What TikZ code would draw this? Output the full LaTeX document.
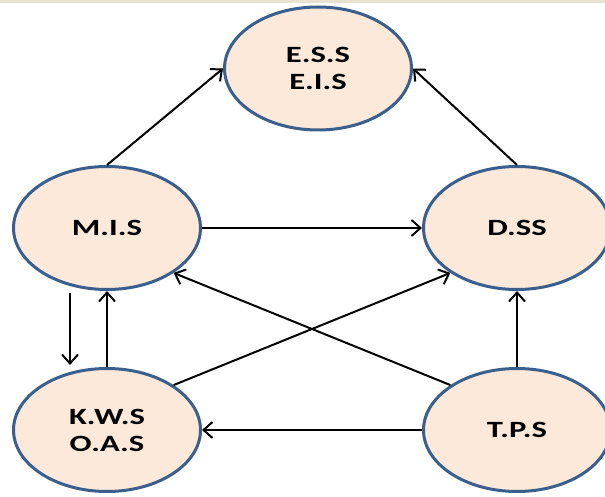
\documentclass[tikz,border=0pt]{standalone}
\usepackage{fontspec}
\setmainfont{Carlito}[FakeStretch=1.4]
\usetikzlibrary{shapes.geometric,arrows.meta}
\definecolor{ellborder}{RGB}{58,95,140}
\definecolor{ellfill}{RGB}{253,233,218}
\definecolor{topband}{RGB}{233,226,208}
\tikzset{
  sysnode/.style={ellipse,draw=ellborder,fill=ellfill,line width=3pt,
    minimum width=187pt,minimum height=123pt,inner sep=0pt,align=center,
    font=\fontsize{23.3}{27}\selectfont\bfseries},
  flow/.style={line width=2pt,-{Straight Barb[length=9pt,width=16pt,line width=2pt]}}
}
\begin{document}
\begin{tikzpicture}[x=1pt,y=-1pt]
\useasboundingbox (0,0) rectangle (605,497);
\clip (0,0) rectangle (605,497);
\fill[topband] (0,0) rectangle (605,3.5);
\node[sysnode] (ess) at (318,68.5) {E.S.S\\E.I.S};
\node[sysnode] (mis) at (107,228) {M.I.S};
\node[sysnode] (dss) at (517,228) {D.SS};
\node[sysnode] (kws) at (107,430) {K.W.S\\O.A.S};
\node[sysnode] (tps) at (517,430) {T.P.S};
\draw[flow] (mis.north) -- (ess.west);
\draw[flow] (dss.north) -- (ess.east);
\draw[flow] (mis.east) -- (dss.west);
\draw[flow] (tps.146) -- (mis.-34);
\draw[flow] (kws.34) -- (dss.-146);
\draw[flow] ([xshift=-37pt,yshift=-2pt]mis.south) -- ([xshift=-37pt,yshift=2pt]kws.north);
\draw[flow] (kws.north) -- (mis.south);
\draw[flow] (tps.west) -- (kws.east);
\draw[flow] (tps.north) -- (dss.south);
\end{tikzpicture}
\end{document}
